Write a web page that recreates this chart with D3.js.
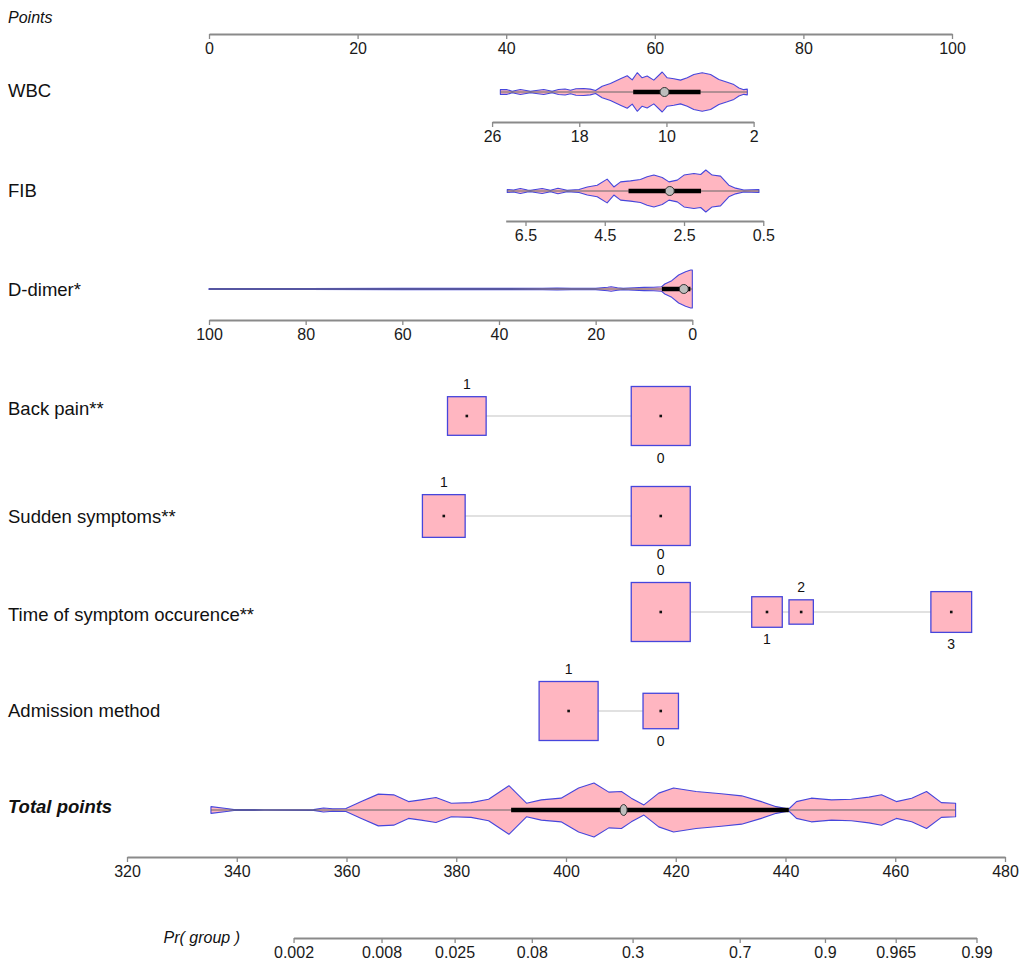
<!DOCTYPE html>
<html>
<head>
<meta charset="utf-8">
<script src="https://cdn.jsdelivr.net/npm/d3@7"></script>
<style>
  body { margin: 0; background: #fff; }
  text { font-family: "Liberation Sans", Arial, sans-serif; }
</style>
</head>
<body>
<div id="chart"></div>
<script>
// Axis ticks
const pointsTicks = [0, 20, 40, 60, 80, 100];
const totalTicks = [320, 340, 360, 380, 400, 420, 440, 460, 480];
const prTicks = [0.002, 0.008, 0.025, 0.08, 0.3, 0.7, 0.9, 0.965, 0.99];
// logistic link: logit(Pr) = prIntercept + prSlope * total points
const prIntercept = -36.637;
const prSlope = 0.08684;

// WBC: value -> points, density profile, box stats (min, q1, median, q3, max)
const wbcTicks = [26, 18, 10, 2];
const wbcRange = [26, 2];
const wbcPoints = [38.1, 73.3];
const wbcGrid = [25.24, 24.62, 24.16, 23.4, 22.48, 21.26, 20.49, 19.9, 19.3, 18.8, 18.3, 17.6, 17.0, 16.5,
  15.9, 15.14, 14.22, 13.6, 13.14, 12.68, 12.23, 11.77, 11.16, 10.39, 9.93, 9.32, 8.71, 8.09, 7.49,
  6.72, 5.95, 5.19, 4.42, 3.81, 3.35, 2.9, 2.58];
const wbcDensity = [2.3, 2.3, 0.8, 2.5, 0.8, 2.5, 0.8, 2.5, 3, 1.8, 3.2, 3.5, 2.8, 1.5,
  5.7, 8.3, 13, 16, 12, 19, 14, 15.7, 11.7, 19.7, 14, 13, 11.7, 14, 17.3,
  19, 17.3, 12.3, 9.7, 7.3, 4, 2.3, 2.8];
const wbcBox = [2.58, 6.87, 10.18, 13.05, 25.24];

// FIB
const fibTicks = [6.5, 4.5, 2.5, 0.5];
const fibRange = [7, 0.5];
const fibPoints = [39.93, 74.6];
const fibGrid = [6.96, 6.8, 6.63, 6.45, 6.37, 6.08, 5.87, 5.68, 5.45, 5.15, 4.94, 4.69, 4.44, 4.27,
  4.1, 3.85, 3.6, 3.43, 3.26, 3.05, 2.88, 2.67, 2.5, 2.25, 2.08, 1.95, 1.79, 1.58, 1.37, 1.2, 0.99, 0.61];
const fibDensity = [1.5, 1.0, 2.5, 1.0, 0.8, 2.5, 0.8, 2.7, 0.8, 1.5, 4, 5.7, 11.7, 4,
  9, 10, 11.3, 14, 15.7, 13.3, 9, 10.7, 15.7, 17.3, 16.3, 20.7, 15.7, 14.7, 5.7, 2.8, 1.0, 1.5];
const fibBox = [0.61, 2.07, 2.86, 3.9, 6.96];

// D-dimer
const ddTicks = [100, 80, 60, 40, 20, 0];
const ddRange = [100, 0];
const ddPoints = [0, 65.05];
const ddGrid = [100, 80, 60, 40, 31, 28, 25, 20, 17.5, 16.8, 15.5, 14.3, 12, 10, 8, 6.4, 5.7,
  4.25, 2.83, 1.4, 0.33, 0];
const ddDensity = [0.5, 0.5, 0.6, 0.6, 0.8, 1.0, 0.7, 0.7, 1.8, 2.3, 1.2, 0.8, 1.2, 1.6, 1.8, 2.2, 5,
  8.3, 14, 17.3, 19, 19];
const ddBox = [0, 0.4, 1.76, 6.3, 100];

// Categorical variables: levels, points, relative frequency
const backPainLevels = ["1", "0"];
const backPainPoints = [34.7, 60.8];
const backPainFreq = [0.30, 0.70];

const suddenLevels = ["1", "0"];
const suddenPoints = [31.6, 60.8];
const suddenFreq = [0.344, 0.656];

const timeLevels = ["0", "1", "2", "3"];
const timePoints = [60.8, 75.1, 79.7, 99.9];
const timeFreq = [0.522, 0.140, 0.089, 0.249];

const admissionLevels = ["1", "0"];
const admissionPoints = [48.4, 60.8];
const admissionFreq = [0.735, 0.265];

// Total points density and box stats
const totalGrid = [335.3, 338.5, 339.5, 345, 354, 355.8, 357.5, 359.9, 362.7, 365.8, 368.6, 371.3,
  373.6, 376.3, 379.1, 382.7, 385.9, 389.6, 392.8, 395.5, 399.1, 402.3, 405.1, 407.8, 410.1, 411.9,
  414.2, 416.9, 419.6, 423.7, 428.3, 432, 435.6, 438.3, 440.6, 442, 444.7, 448.4, 452, 455.2, 457.5,
  460.2, 463, 465.7, 468.4, 471];
const totalDensity = [3.3, 1.2, 0.4, 0.3, 0.4, 2, 1.2, 1.5, 8.3, 15.7, 15, 8.3,
  10, 12.3, 6.7, 7.3, 10.7, 24, 6.7, 10, 11.7, 21.7, 26.7, 17.7, 18.3, 11.7,
  5, 16.7, 21.7, 18.3, 16, 14, 8.3, 3.3, 1, 8.3, 11.7, 10, 10.7, 12.7, 15,
  8.3, 11.7, 18.3, 7.3, 6.7];
const totalBox = [335.3, 390, 410.5, 440.6, 471];

// Layout
const WIDTH = 1022;
const HEIGHT = 980;
const LABEL_X = 8;
const PINK = "#ffb6c1";
const BLUE = "#4646dc";
const AXIS_GREY = "#8a8a8a";

const svg = d3.select("#chart")
  .append("svg")
  .attr("width", WIDTH)
  .attr("height", HEIGHT)
  .style("background-color", "#fff");

const xPts = d3.scaleLinear().domain([0, 100]).range([209, 952]);
const xTotal = d3.scaleLinear().domain([320, 480]).range([127, 1005]);

function styleAxis(g) {
  g.select(".domain").attr("stroke", AXIS_GREY).attr("stroke-width", 2);
  g.selectAll(".tick line").attr("stroke", AXIS_GREY).attr("stroke-width", 1.3);
  g.selectAll(".tick text")
    .attr("fill", "#1a1a1a")
    .attr("font-size", "16px")
    .attr("font-family", "'Liberation Sans', Arial, sans-serif");
}

function drawAxis(scale, ticks, y, fmt) {
  const axis = d3.axisBottom(scale)
    .tickValues(ticks)
    .tickSize(5)
    .tickSizeOuter(0)
    .tickPadding(4);
  if (fmt) axis.tickFormat(fmt);
  svg.append("g")
    .attr("transform", `translate(0, ${y})`)
    .call(axis)
    .call(styleAxis);
}

function rowLabel(txt, y, opts = {}) {
  svg.append("text")
    .attr("x", LABEL_X)
    .attr("y", y)
    .attr("font-size", opts.size || "18.5px")
    .attr("font-style", opts.italic ? "italic" : "normal")
    .attr("font-weight", opts.bold ? "bold" : "normal")
    .attr("fill", "#111")
    .text(txt);
}

// Violin + box plot for a continuous row
function drawViolin(xOf, grid, dens, box, cy, half, medianShape) {
  const hs = d3.scaleLinear().domain([0, d3.max(dens)]).range([0, half]);
  const area = d3.area()
    .x((d) => xOf(d[0]))
    .y0((d) => cy - hs(d[1]))
    .y1((d) => cy + hs(d[1]))
    .curve(d3.curveLinear);

  svg.append("path")
    .datum(d3.zip(grid, dens))
    .attr("d", area)
    .attr("fill", PINK)
    .attr("stroke", BLUE)
    .attr("stroke-width", 1.1)
    .attr("stroke-linejoin", "round");

  // whisker
  svg.append("line")
    .attr("x1", xOf(box[0])).attr("x2", xOf(box[4]))
    .attr("y1", cy).attr("y2", cy)
    .attr("stroke", "#666").attr("stroke-width", 1);

  // inter-quartile bar
  svg.append("line")
    .attr("x1", xOf(box[1])).attr("x2", xOf(box[3]))
    .attr("y1", cy).attr("y2", cy)
    .attr("stroke", "#000").attr("stroke-width", 4.5);

  // median
  svg.append("ellipse")
    .attr("cx", xOf(box[2])).attr("cy", cy)
    .attr("rx", medianShape[0]).attr("ry", medianShape[1])
    .attr("fill", "#bdbdbd").attr("stroke", "#333").attr("stroke-width", 1);
}

// ---- Points axis
rowLabel("Points", 23, { italic: true, size: "16px" });
drawAxis(xPts, pointsTicks, 34);

// ---- Continuous variables
const continuousRows = [
  { label: "WBC", labelY: 97, cy: 92, axisY: 122, ticks: wbcTicks, range: wbcRange, pts: wbcPoints,
    grid: wbcGrid, dens: wbcDensity, box: wbcBox, half: 20 },
  { label: "FIB", labelY: 197, cy: 191, axisY: 221, ticks: fibTicks, range: fibRange, pts: fibPoints,
    grid: fibGrid, dens: fibDensity, box: fibBox, half: 21 },
  { label: "D-dimer*", labelY: 296, cy: 289, axisY: 320, ticks: ddTicks, range: ddRange, pts: ddPoints,
    grid: ddGrid, dens: ddDensity, box: ddBox, half: 19 }
];

continuousRows.forEach((r) => {
  const toPts = d3.scaleLinear().domain(r.range).range(r.pts);
  const xv = d3.scaleLinear().domain(r.range).range(r.range.map((v) => xPts(toPts(v))));
  rowLabel(r.label, r.labelY);
  drawViolin(xv, r.grid, r.dens, r.box, r.cy, r.half, [4.5, 4.5]);
  drawAxis(xv, r.ticks, r.axisY);
});

// ---- Categorical variables
const categoricalRows = [
  { label: "Back pain**", labelY: 415, cy: 416, levels: backPainLevels, pts: backPainPoints, freq: backPainFreq },
  // level labels below sit a little closer here so they clear the next row's "0"
  { label: "Sudden symptoms**", labelY: 523, cy: 516, levels: suddenLevels, pts: suddenPoints, freq: suddenFreq, below: 13 },
  { label: "Time of symptom occurence**", labelY: 621, cy: 612, levels: timeLevels, pts: timePoints, freq: timeFreq },
  { label: "Admission method", labelY: 717, cy: 711, levels: admissionLevels, pts: admissionPoints, freq: admissionFreq }
];

categoricalRows.forEach((r) => {
  rowLabel(r.label, r.labelY);
  const side = d3.scaleSqrt().domain([0, d3.max(r.freq)]).range([0, 59]);
  const items = r.levels.map((lv, i) => ({ lv, p: r.pts[i], f: r.freq[i] }))
    .sort((a, b) => a.p - b.p);
  const belowOffset = r.below || 17;

  svg.append("line")
    .attr("x1", xPts(items[0].p)).attr("x2", xPts(items[items.length - 1].p))
    .attr("y1", r.cy).attr("y2", r.cy)
    .attr("stroke", "#c4c4c4").attr("stroke-width", 1.2);

  items.forEach((d, i) => {
    const s = side(d.f);
    const cx = xPts(d.p);
    svg.append("rect")
      .attr("x", cx - s / 2).attr("y", r.cy - s / 2)
      .attr("width", s).attr("height", s)
      .attr("fill", PINK).attr("stroke", BLUE).attr("stroke-width", 1.3);
    svg.append("rect")
      .attr("x", cx - 1.3).attr("y", r.cy - 1.3)
      .attr("width", 2.6).attr("height", 2.6)
      .attr("fill", "#111");
    // labels alternate above / below, left to right
    const above = i % 2 === 0;
    svg.append("text")
      .attr("x", cx)
      .attr("y", above ? r.cy - s / 2 - 7.5 : r.cy + s / 2 + belowOffset)
      .attr("text-anchor", "middle")
      .attr("font-size", "14px")
      .attr("fill", "#111")
      .text(d.lv);
  });
});

// ---- Total points
rowLabel("Total points", 813, { italic: true, bold: true });
drawViolin(xTotal, totalGrid, totalDensity, totalBox, 810, 27, [3.5, 5.5]);
drawAxis(xTotal, totalTicks, 857);

// ---- Pr( group ) axis
const tpOf = (p) => (Math.log(p / (1 - p)) - prIntercept) / prSlope;
const prTp = prTicks.map(tpOf);
const xPr = d3.scaleLinear()
  .domain([prTp[0], prTp[prTp.length - 1]])
  .range([xTotal(prTp[0]), xTotal(prTp[prTp.length - 1])]);
drawAxis(xPr, prTp, 938, (d, i) => String(prTicks[i]));

svg.append("text")
  .attr("x", 240)
  .attr("y", 943)
  .attr("text-anchor", "end")
  .attr("font-size", "16px")
  .attr("font-style", "italic")
  .attr("fill", "#111")
  .text("Pr( group )");
</script>
</body>
</html>
